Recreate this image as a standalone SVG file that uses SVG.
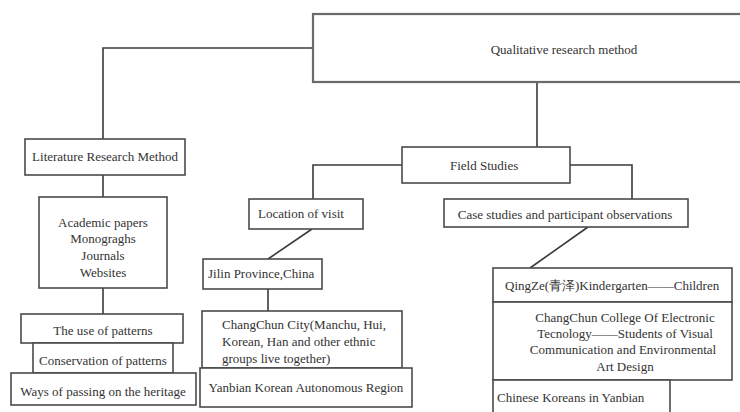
<svg xmlns="http://www.w3.org/2000/svg" width="740" height="412" viewBox="0 0 740 412">
<style>
.box{fill:#fff;stroke:#4a4a4a;stroke-width:1.6}
.top{fill:#fff;stroke:#6a6a6a;stroke-width:2.2}
.ln{fill:none;stroke:#3a3a3a;stroke-width:1.6}
text{font-family:"Liberation Serif","Times New Roman",serif;font-size:13px;fill:#333}
.c{text-anchor:middle}
</style>
<rect width="740" height="412" fill="#fff"/>
<g id="connectors">
<polyline class="ln" points="313,48 103,48 103,139"/>
<line class="ln" x1="103" y1="175" x2="103" y2="197"/>
<line class="ln" x1="103" y1="288" x2="103" y2="314"/>
<line class="ln" x1="537" y1="82" x2="537" y2="147"/>
<polyline class="ln" points="402,165 313,165 313,199"/>
<polyline class="ln" points="570,165 632,165 632,199"/>
<line class="ln" x1="312" y1="229" x2="268" y2="259"/>
<line class="ln" x1="268" y1="289" x2="268" y2="311"/>
<line class="ln" x1="588" y1="227" x2="530" y2="268"/>
</g>
<g id="n-qualitative">
<rect class="top" x="313" y="14" width="440" height="68"/>
<text x="564" y="54" class="c">Qualitative research method</text>
</g>
<g id="n-literature">
<rect class="box" x="25" y="139" width="160" height="36"/>
<text x="105" y="161" class="c">Literature Research Method</text>
</g>
<g id="n-academic">
<rect class="box" x="39" y="197" width="128" height="91"/>
<text x="103" y="227" class="c">Academic papers</text>
<text x="103" y="243" class="c">Monograghs</text>
<text x="103" y="260" class="c">Journals</text>
<text x="103" y="277" class="c">Websites</text>
</g>
<g id="n-use">
<rect class="box" x="21" y="314" width="162" height="29"/>
<text x="103" y="335" class="c">The use of patterns</text>
</g>
<g id="n-conservation">
<rect class="box" x="33" y="343" width="140" height="30"/>
<text x="103" y="365" class="c">Conservation of patterns</text>
</g>
<g id="n-ways">
<rect class="box" x="11" y="373" width="185" height="32"/>
<text x="103" y="396" class="c">Ways of passing on the heritage</text>
</g>
<g id="n-field">
<rect class="box" x="402" y="147" width="168" height="36"/>
<text x="450" y="170">Field Studies</text>
</g>
<g id="n-location">
<rect class="box" x="249" y="199" width="114" height="30"/>
<text x="301" y="218" class="c">Location of visit</text>
</g>
<g id="n-jilin">
<rect class="box" x="203" y="259" width="119" height="30"/>
<text x="208" y="278">Jilin Province,China</text>
</g>
<g id="n-changchun">
<rect class="box" x="202" y="311" width="200" height="57"/>
<text x="222" y="329">ChangChun City(Manchu, Hui,</text>
<text x="222" y="346">Korean, Han and other ethnic</text>
<text x="222" y="363">groups live together)</text>
</g>
<g id="n-yanbian">
<rect class="box" x="200" y="368" width="212" height="39"/>
<text x="306" y="392" class="c">Yanbian Korean Autonomous Region</text>
</g>
<g id="n-case">
<rect class="box" x="444" y="199" width="244" height="28"/>
<text x="565" y="219" class="c">Case studies and participant observations</text>
</g>
<g id="n-qingze">
<rect class="box" x="493" y="268" width="239" height="34"/>
<text x="505" y="290" font-family="Liberation Serif, Noto Sans CJK SC, serif">QingZe(青泽)Kindergarten——Children</text>
</g>
<g id="n-college">
<rect class="box" x="493" y="302" width="239" height="78"/>
<text x="625" y="322" class="c">ChangChun College Of Electronic</text>
<text x="625" y="338" class="c">Tecnology——Students of Visual</text>
<text x="623" y="354" class="c">Communication and Environmental</text>
<text x="625" y="371" class="c">Art Design</text>
</g>
<g id="n-koreans">
<rect class="box" x="493" y="380" width="177" height="40"/>
<text x="497" y="402">Chinese Koreans in Yanbian</text>
</g>
</svg>
